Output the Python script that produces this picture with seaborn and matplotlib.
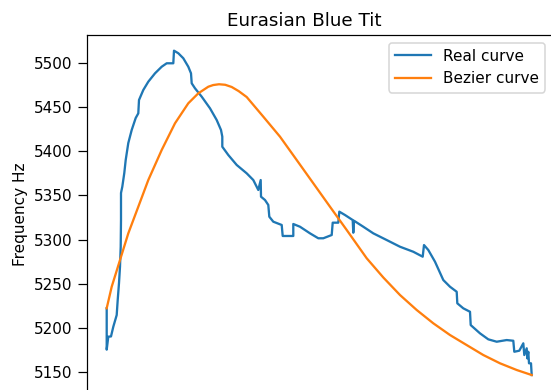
import matplotlib
matplotlib.use("Agg")
import matplotlib.pyplot as plt
import pandas as pd
import seaborn as sns

# Measured pitch contour of the song (time in ms, frequency in Hz)
real_time = [0, 0, 1.6, 4.3, 6.6, 10, 11, 12.3, 13.3, 14, 14.3, 14.3, 15.6, 17.6, 19,
             21.6, 25, 29, 31.6, 32.3, 36.6, 41.6, 48.3, 55, 60, 66.6, 67.3, 71.6,
             76.6, 81.6, 84.3, 85, 88.3, 95, 103.3, 110, 114.3, 115.6, 115.6, 121.6,
             130, 140, 146.6, 151.6, 154, 154.3, 158.3, 161.6, 162.6, 166.6, 175,
             176, 186.6, 186.6, 193.3, 203.3, 211.6, 216.6, 225, 226, 231.6, 232.6,
             238.3, 246, 246.6, 247.3, 256.6, 266.6, 280, 293.3, 306.6, 316, 317.3,
             321.6, 328.3, 336.6, 343.3, 350, 350.6, 356.6, 363.3, 364, 373.3,
             381.6, 390, 400, 406.6, 407.6, 412.6, 416.6, 417.6, 420, 420.6, 421.6,
             422.3, 424.3, 425]
real_freq = [5222, 5175, 5189.7, 5190, 5201, 5214.3, 5231.3, 5250.6, 5269.1, 5291.8,
             5322.1, 5352.8, 5359.9, 5375.5, 5390.2, 5409.5, 5424.3, 5437.9, 5443.2,
             5458.3, 5469.7, 5479.1, 5488.6, 5496.1, 5500, 5500, 5514.3, 5511.4,
             5505.7, 5496.1, 5488.6, 5477.3, 5471.6, 5462.1, 5448.9, 5435.6, 5424.3,
             5416.7, 5405.3, 5395.9, 5384.6, 5375.1, 5367.5, 5356.2, 5367.5, 5348.6,
             5344.8, 5339.2, 5325.9, 5320.2, 5316.5, 5304, 5304, 5317.6, 5314.5,
             5307, 5301.4, 5301.4, 5305.1, 5319.1, 5319.1, 5331.6, 5327.8, 5322.1,
             5307.7, 5321.3, 5314.5, 5307, 5299.4, 5291.8, 5286.1, 5280.5, 5293.7,
             5288.1, 5274.8, 5254, 5246.4, 5240.7, 5227.6, 5221.9, 5218, 5202.9,
             5193.5, 5186.7, 5184, 5185.9, 5185.1, 5172.6, 5173.8, 5182.2, 5168.9,
             5176.5, 5165.1, 5172.6, 5159.5, 5159.5, 5146.2]

# Fitted Bezier contour
bezier_time = [0, 5, 13.3, 21.6, 31.6, 41.6, 55, 68.3, 81.6, 91.6, 101.6, 106.5, 112.3,
               118.5, 125, 132, 140, 156.6, 173.3, 190, 206.6, 223.3, 240, 260, 276.6,
               293.3, 310, 326.6, 343.3, 360, 376.6, 393.3, 410, 425]
bezier_freq = [5222, 5246.4, 5276.7, 5307, 5337.2, 5367.5, 5401.6, 5431.9, 5454.6,
               5465.9, 5473.4, 5475.3, 5476.2, 5475.6, 5473.1, 5468.4, 5461.7, 5439.4,
               5416.7, 5390.2, 5363.8, 5337.2, 5310.8, 5278.7, 5256.9, 5237, 5220,
               5204.9, 5191.6, 5180.2, 5168.9, 5159.5, 5151.9, 5146.2]

real_df = pd.DataFrame({"time": real_time, "freq": real_freq})
bezier_df = pd.DataFrame({"time": bezier_time, "freq": bezier_freq})

DPI = 110
W, H = 551, 390
fig = plt.figure(figsize=(W / DPI, H / DPI), dpi=DPI)
left, right, top, bottom = 87, 553, 35, 393
ax = fig.add_axes([left / W, 1 - bottom / H, (right - left) / W, (bottom - top) / H])

sns.lineplot(data=real_df, x="time", y="freq", sort=False, estimator=None,
             color="#1f77b4", linewidth=1.5, label="Real curve", ax=ax)
sns.lineplot(data=bezier_df, x="time", y="freq", sort=False, estimator=None,
             color="#ff7f0e", linewidth=1.5, label="Bezier curve", ax=ax)

ax.set_xlim(-19.7, 446.3)
ax.set_ylim(5125.8, 5532.1)
ax.set_yticks([5150, 5200, 5250, 5300, 5350, 5400, 5450, 5500])
ax.set_xticks([])
ax.tick_params(axis="y", length=6, pad=3.6)
ax.set_xlabel("")
ax.set_ylabel("Frequency Hz")
ax.set_title("Eurasian Blue Tit", x=0.4667, fontsize=12)
ax.legend(loc="upper right", handlelength=2.35)

fig.savefig("out.png", dpi=DPI)
